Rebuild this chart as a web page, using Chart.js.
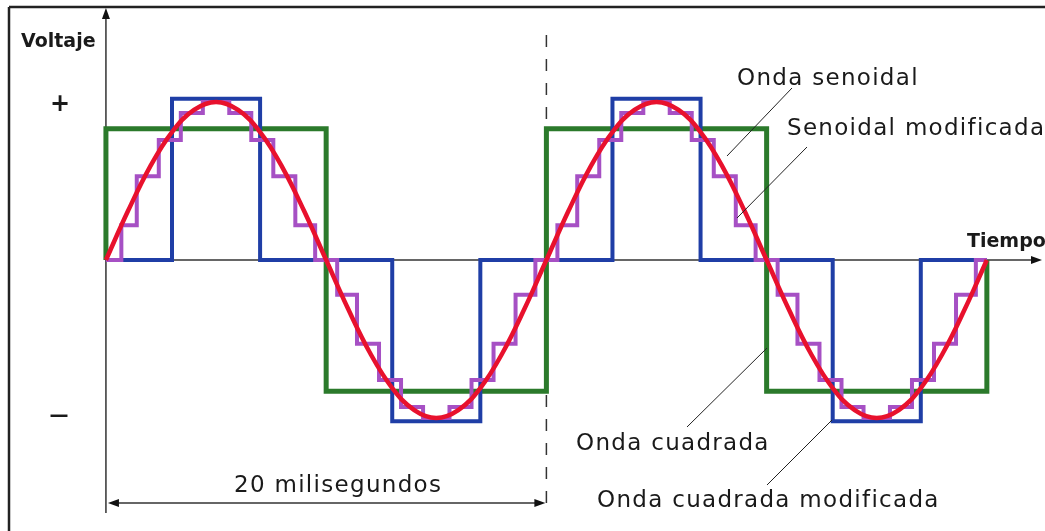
<!DOCTYPE html>
<html>
<head>
<meta charset="utf-8">
<script src="https://cdn.jsdelivr.net/npm/chart.js@4/dist/chart.umd.min.js"></script>
<style>
  body { margin: 0; background: #fff; }
  canvas { display: block; }
</style>
</head>
<body>
<canvas id="waves" width="1045" height="531"></canvas>
<script>
/* Data (time in ms, voltage relative to the sine peak) */

const sineTimes = [0,1,2,3,4,5,6,7,8,9,10,11,12,13,14,15,16,17,18,19,20,21,22,23,24,25,26,27,28,29,30,31,32,33,34,35,36,37,38,39,40]
const sineValues = [0,0.31,0.59,0.81,0.95,1,0.95,0.81,0.59,0.31,0,-0.31,-0.59,-0.81,-0.95,-1,-0.95,-0.81,-0.59,-0.31,
                    0,0.31,0.59,0.81,0.95,1,0.95,0.81,0.59,0.31,0,-0.31,-0.59,-0.81,-0.95,-1,-0.95,-0.81,-0.59,-0.31,0]

const squareTimes = [0, 0, 10, 20, 30, 40]
const squareLevels = [0, 0.83, -0.83, 0.83, -0.83, 0]

const modSquareTimes = [0, 3, 7, 13, 17, 23, 27, 33, 37, 40]
const modSquareLevels = [0, 1.02, 0, -1.02, 0, 1.02, 0, -1.02, 0, 0]

const modSineTimes = [0, 0.7, 1.4, 2.4, 3.4, 4.4, 5.6, 6.6, 7.6, 8.6, 9.5,
                      10.5, 11.4, 12.4, 13.4, 14.4, 15.6, 16.6, 17.6, 18.6, 19.5,
                      20.5, 21.4, 22.4, 23.4, 24.4, 25.6, 26.6, 27.6, 28.6, 29.5,
                      30.5, 31.4, 32.4, 33.4, 34.4, 35.6, 36.6, 37.6, 38.6, 39.5, 40]
const modSineLevels = [0, 0.22, 0.53, 0.76, 0.93, 1, 0.93, 0.76, 0.53, 0.22, 0,
                       -0.22, -0.53, -0.76, -0.93, -1, -0.93, -0.76, -0.53, -0.22, 0,
                       0.22, 0.53, 0.76, 0.93, 1, 0.93, 0.76, 0.53, 0.22, 0,
                       -0.22, -0.53, -0.76, -0.93, -1, -0.93, -0.76, -0.53, -0.22, 0, 0]

const periodMs = 20

const toPoints = (xs, ys) => xs.map((x, i) => ({ x: x, y: ys[i] }))

/* Axes, labels and callouts */

const textFont = '23px "DejaVu Sans"'
const ink = '#1a1a1a'

function arrowHead(ctx, x, y, dir, len, half) {
  ctx.beginPath()
  if (dir === 'up') { ctx.moveTo(x, y); ctx.lineTo(x - half, y + len); ctx.lineTo(x + half, y + len) }
  if (dir === 'right') { ctx.moveTo(x, y); ctx.lineTo(x - len, y - half); ctx.lineTo(x - len, y + half) }
  if (dir === 'left') { ctx.moveTo(x, y); ctx.lineTo(x + len, y - half); ctx.lineTo(x + len, y + half) }
  ctx.closePath()
  ctx.fill()
}

function line(ctx, x1, y1, x2, y2) {
  ctx.beginPath()
  ctx.moveTo(x1, y1)
  ctx.lineTo(x2, y2)
  ctx.stroke()
}

const diagram = {
  id: 'diagram',
  beforeDatasetsDraw(chart) {
    const ctx = chart.ctx
    const x = chart.scales.x
    const y = chart.scales.y
    const x0 = x.getPixelForValue(0)
    const xP = x.getPixelForValue(periodMs)
    const y0 = y.getPixelForValue(0)
    ctx.save()

    // frame
    ctx.strokeStyle = '#222'
    ctx.lineWidth = 2.5
    line(ctx, 9, 7, 1045, 7)
    line(ctx, 9, 7, 9, 531)

    // axes
    ctx.strokeStyle = '#333'
    ctx.fillStyle = '#111'
    ctx.lineWidth = 1.5
    line(ctx, x0, 14, x0, 513)
    arrowHead(ctx, x0, 8, 'up', 11, 4)
    line(ctx, x0, y0, 1034, y0)
    arrowHead(ctx, 1042, y0, 'right', 11, 4)

    // one period marker
    ctx.setLineDash([12, 12])
    line(ctx, xP, 35, xP, 508)
    ctx.setLineDash([])
    line(ctx, x0 + 8, 503, xP - 8, 503)
    arrowHead(ctx, x0 + 2, 503, 'left', 11, 4)
    arrowHead(ctx, xP - 1, 503, 'right', 11, 4)

    ctx.restore()
  },
  afterDatasetsDraw(chart) {
    const ctx = chart.ctx
    ctx.save()
    ctx.fillStyle = ink
    ctx.strokeStyle = '#222'
    ctx.lineWidth = 1

    // callout leaders
    line(ctx, 792, 88, 727, 156)
    line(ctx, 807, 147, 737, 218)
    line(ctx, 687, 427, 767, 348)
    line(ctx, 767, 485, 832, 420)

    ctx.textBaseline = 'alphabetic'
    ctx.font = textFont
    ctx.letterSpacing = '1.3px'
    ctx.fillText('Onda senoidal', 737, 85)
    ctx.fillText('Senoidal modificada', 787, 135)
    ctx.fillText('Onda cuadrada', 576, 450)
    ctx.fillText('Onda cuadrada modificada', 597, 507)
    ctx.fillText('20 milisegundos', 234, 492)

    ctx.letterSpacing = '0px'
    ctx.font = 'bold 19px "DejaVu Sans"'
    ctx.fillText('Voltaje', 21, 47)
    ctx.fillText('Tiempo', 967, 247)
    ctx.font = 'bold 24px "DejaVu Sans"'
    ctx.textAlign = 'center'
    ctx.fillText('+', 60, 111)
    ctx.font = 'bold 19px "DejaVu Sans"'
    ctx.fillText('—', 59, 421)
    ctx.restore()
  }
}

/* Chart */

const ctxWaves = document.getElementById('waves').getContext('2d')
const wavesChart = new Chart(ctxWaves, {
  type: 'line',
  data: {
    datasets: [{
      label: 'Onda senoidal',
      data: toPoints(sineTimes, sineValues),
      borderColor: '#e8112d',
      borderWidth: 4.5,
      tension: 0.4
    }, {
      label: 'Senoidal modificada',
      data: toPoints(modSineTimes, modSineLevels),
      borderColor: '#a650c4',
      borderWidth: 4,
      stepped: 'before'
    }, {
      label: 'Onda cuadrada modificada',
      data: toPoints(modSquareTimes, modSquareLevels),
      borderColor: '#1f3ea6',
      borderWidth: 4,
      stepped: 'before'
    }, {
      label: 'Onda cuadrada',
      data: toPoints(squareTimes, squareLevels),
      borderColor: '#2b7a2b',
      borderWidth: 5,
      stepped: 'before'
    }]
  },
  options: {
    responsive: false,
    animation: false,
    layout: { padding: 0 },
    elements: {
      point: { radius: 0 },
      line: { fill: false, borderJoinStyle: 'miter', borderCapStyle: 'butt' }
    },
    plugins: {
      legend: { display: false },
      tooltip: { enabled: false }
    },
    scales: {
      x: { type: 'linear', display: false, min: -4.81, max: 42.64 },
      y: { display: false, min: -1.715, max: 1.6456 }
    }
  },
  plugins: [diagram]
})
</script>
</body>
</html>
